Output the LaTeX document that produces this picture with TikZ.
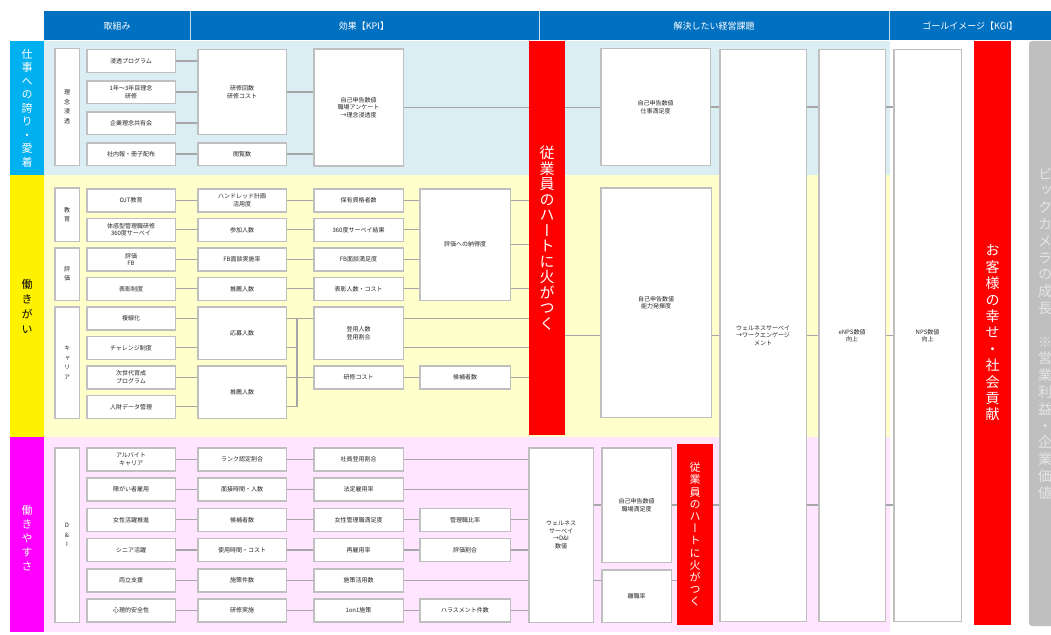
\documentclass[tikz,border=0pt]{standalone}
\usepackage{fontspec}
\setmainfont{Noto Sans CJK JP}
\newfontfamily\tate[RawFeature=+vert]{Noto Sans CJK JP}
\definecolor{hdblue}{HTML}{0070C0}
\definecolor{bgblue}{HTML}{DAEEF3}
\definecolor{bgyel}{HTML}{FFFFCC}
\definecolor{bgpink}{HTML}{FFE5FF}
\definecolor{catcyan}{HTML}{00B0F0}
\definecolor{catmag}{HTML}{FF00FF}
\definecolor{boxgray}{HTML}{BFBFBF}
\definecolor{lngray}{HTML}{A6A6A6}

\begin{document}
\begin{tikzpicture}[x=1pt,y=-1pt,
bx/.style={draw=boxgray,line width=1.5pt,fill=white,inner sep=1pt,align=center,text=black!85,font=\fontsize{6}{7.5}\selectfont},
lb/.style={bx,font=\tate\fontsize{6}{9.5}\selectfont},
ln/.style={lngray,line width=1.2pt},
redbar/.style={fill=red,inner sep=0pt,align=center,text=white}]
\useasboundingbox (0,0) rectangle (1051,634);
\fill[bgblue] (44,41) rectangle (890,175);\fill[bgyel] (44,175) rectangle (890,437);\fill[bgpink] (44,437) rectangle (890,632);
\fill[catcyan] (10,41) rectangle (44,175);\fill[yellow] (10,175) rectangle (44,437);\fill[catmag] (10,437) rectangle (44,632);
\fill[hdblue] (44,11) rectangle (1051,40);
\foreach \x in {190,539,889}{\draw[white!75!hdblue,line width=.8pt] (\x,11) -- (\x,40);}
\foreach \n/\x/\t in {h1/117/取組み,h2/364/効果【KPI】,h3/714/解決したい経営課題,h4/970/ゴールイメージ【KGI】}{\node[text=white,font=\fontsize{9}{10}\selectfont] (\n) at (\x,26){\t};}
\node[align=center,text=white,font=\tate\fontsize{11}{13.5}\selectfont] (cat1) at (27,108){仕\\事\\へ\\の\\誇\\り\\・\\愛\\着};
\node[align=center,text=black,font=\tate\fontsize{11}{15}\selectfont] (cat2) at (27,306){働\\き\\が\\い};
\node[align=center,text=white,font=\tate\fontsize{11}{14}\selectfont] (cat3) at (27,538){働\\き\\や\\す\\さ};
\node[redbar,minimum width=36,minimum height=394,font=\tate\fontsize{15}{15.5}\selectfont] (red1) at (547,238){従\\業\\員\\の\\ハ\\ー\\ト\\に\\火\\が\\つ\\く};
\node[redbar,minimum width=36,minimum height=181,font=\tate\fontsize{11}{12.2}\selectfont] (red2) at (695,534.5){従\\業\\員\\の\\ハ\\ー\\ト\\に\\火\\が\\つ\\く};
\node[redbar,minimum width=37,minimum height=584,font=\tate\fontsize{14}{16.4}\selectfont] (red3) at (992.5,333){お\\客\\様\\の\\幸\\せ\\・\\社\\会\\貢\\献};
\node[fill=boxgray,rounded corners=3pt,inner sep=0pt,minimum width=32,minimum height=585,align=center,text=white!90!black,font=\tate\fontsize{14}{16.8}\selectfont] (goal) at (1045,333.5){ビ\\ッ\\ク\\カ\\メ\\ラ\\の\\成\\長\\[16.8pt]※\\営\\業\\利\\益\\・\\企\\業\\価\\値};
\node[lb,minimum width=24.5,minimum height=116.5] (l1) at (67,107){理\\念\\浸\\透};
\foreach \n/\y/\t in {a1/61/浸透プログラム,a2/92/1年～3年目理念\\研修,a3/123/企業理念共有会,a4/154/社内報・冊子配布}{\node[bx,minimum width=88.5,minimum height=22.5] (\n) at (131,\y){\t};}
\node[bx,minimum width=88.5,minimum height=84.5] (a5) at (242,92){研修回数\\研修コスト};
\node[bx,minimum width=88.5,minimum height=22.5] (a6) at (242,154){閲覧数};
\node[bx,minimum width=89.5,minimum height=116.5] (a7) at (358.5,107.5){自己申告数値\\職場アンケート\\→理念浸透度};
\node[bx,minimum width=109.5,minimum height=116.5] (shigoto) at (655.5,107){自己申告数値\\仕事満足度};
\node[lb,minimum width=24.5,minimum height=53.5] (l2) at (67,214.5){教\\育};
\node[lb,minimum width=24.5,minimum height=52.5] (l3) at (67,274){評\\価};
\node[lb,minimum width=24.5,minimum height=111.5] (l4) at (67,362.5){キ\\ャ\\リ\\ア};
\foreach \n/\y/\t in {b1/200.25/OJT教育,b2/229.75/体感型管理職研修\\360度サーベイ,b3/259.25/評価\\FB,b4/288.75/表彰制度,b5/318.25/複線化,b6/347.75/チャレンジ制度,b7/377.25/次世代育成\\プログラム,b8/406.75/人財データ管理}{\node[bx,minimum width=88.5,minimum height=23] (\n) at (131,\y){\t};}
\foreach \n/\y/\t in {k1/200.25/ハンドレッド計画\\活用度,k2/229.75/参加人数,k3/259.25/FB面談実施率,k4/288.75/推薦人数}{\node[bx,minimum width=88.5,minimum height=23] (\n) at (242,\y){\t};}
\node[bx,minimum width=88.5,minimum height=52.5] (k5) at (242,333){応募人数};
\node[bx,minimum width=88.5,minimum height=52.5] (k6) at (242,392){推薦人数};
\foreach \n/\y/\t in {m1/200.25/保有資格者数,m2/229.75/360度サーベイ結果,m3/259.25/FB面談満足度,m4/288.75/表彰人数・コスト,m6/377.25/研修コスト}{\node[bx,minimum width=89.5,minimum height=23] (\n) at (358.5,\y){\t};}
\node[bx,minimum width=89.5,minimum height=52.5] (m5) at (358.5,333){登用人数\\登用割合};
\node[bx,minimum width=90.5,minimum height=111.5] (nat) at (465,244.5){評価への納得度};
\node[bx,minimum width=90.5,minimum height=23] (kouho) at (465,377.25){候補者数};
\node[bx,minimum width=110.5,minimum height=229.5] (nou) at (656,302.5){自己申告数値\\能力発揮度};
\node[lb,minimum width=24.5,minimum height=174.5] (l5) at (67,535){D\\\&\\I};
\foreach \n/\y/\t in {d1/459.25/アルバイト\\キャリア,d2/489.5/障がい者雇用,d3/519.75/女性活躍推進,d4/550/シニア活躍,d5/580.25/両立支援,d6/610.5/心理的安全性}{\node[bx,minimum width=88.5,minimum height=23] (\n) at (131,\y){\t};}
\foreach \n/\y/\t in {e1/459.25/ランク認定割合,e2/489.5/面接時間・人数,e3/519.75/候補者数,e4/550/使用時間・コスト,e5/580.25/施策件数,e6/610.5/研修実施}{\node[bx,minimum width=88.5,minimum height=23] (\n) at (242,\y){\t};}
\foreach \n/\y/\t in {f1/459.25/社員登用割合,f2/489.5/法定雇用率,f3/519.75/女性管理職満足度,f4/550/再雇用率,f5/580.25/施策活用数,f6/610.5/1on1施策}{\node[bx,minimum width=89.5,minimum height=23] (\n) at (358.5,\y){\t};}
\foreach \n/\y/\t in {g3/519.75/管理職比率,g4/550/評価割合,g6/610.5/ハラスメント件数}{\node[bx,minimum width=90.5,minimum height=23] (\n) at (465,\y){\t};}
\node[bx,minimum width=64.5,minimum height=174.5] (dni) at (561,535){ウェルネス\\サーベイ\\→D\&I\\数値};
\node[bx,minimum width=69.5,minimum height=114.5] (shoku) at (636.5,505){自己申告数値\\職場満足度};
\node[bx,minimum width=69.5,minimum height=52.5] (rishoku) at (636.5,596){離職率};
\node[bx,minimum width=86.5,minimum height=571.5] (well) at (763,335.5){ウェルネスサーベイ\\→ワークエンゲージ\\メント};
\node[bx,minimum width=66.5,minimum height=571.5] (enps) at (852,335.5){eNPS数値\\向上};
\node[bx,minimum width=67.5,minimum height=571.5] (nps) at (927.5,335.5){NPS数値\\向上};
\coordinate (brk) at (297,0);
\foreach \i in {1,2,3}{\draw[ln] (a\i.east) -- (a\i.east -| a5.west);}
\draw[ln] (a4.east) -- (a4.east -| a6.west);
\draw[ln] (a5.east) -- (a5.east -| a7.west);\draw[ln] (a6.east) -- (a6.east -| a7.west);
\draw[ln] (a7.east) -- (a7.east -| red1.west);\draw[ln] (red1.east |- a7) -- (shigoto.west |- a7);
\draw[ln] (shigoto.east) -- (shigoto.east -| well.west);\draw[ln] (well.east |- shigoto) -- (enps.west |- shigoto);\draw[ln] (enps.east |- shigoto) -- (nps.west |- shigoto);
\foreach \i in {1,...,8}{\draw[ln] (b\i.east) -- (b\i.east -| k1.west);}
\foreach \i in {1,...,4}{\draw[ln] (k\i.east) -- (k\i.east -| m1.west);\draw[ln] (m\i.east) -- (m\i.east -| nat.west);}
\foreach \i in {5,...,8}{\draw[ln] (b\i -| k5.east) -- (b\i -| brk);}
\draw[ln] (brk |- b5) -- (brk |- b8);\draw[ln] (brk |- b5) -- (b5 -| m5.west);\draw[ln] (brk |- b7) -- (b7 -| m6.west);
\draw[ln] (m5.east |- b5) -- (b5 -| red1.west);\draw[ln] (m5.east |- b6) -- (b6 -| red1.west);
\draw[ln] (m6.east) -- (kouho.west);\draw[ln] (kouho.east) -- (kouho.east -| red1.west);
\draw[ln] (nat.east |- b1) -- (b1 -| red1.west);\draw[ln] (nat.east) -- (nat.east -| red1.west);\draw[ln] (nat.east |- b4) -- (b4 -| red1.west);
\draw[ln] (red1.east |- well) -- (nou.west |- well);\draw[ln] (nou.east |- well) -- (well.west);\draw[ln] (well.east) -- (enps.west);\draw[ln] (enps.east) -- (nps.west);
\foreach \i in {1,...,6}{\draw[ln] (d\i.east) -- (d\i.east -| e1.west);\draw[ln] (e\i.east) -- (e\i.east -| f1.west);}
\foreach \i in {1,2,5}{\draw[ln] (f\i.east) -- (f\i.east -| dni.west);}
\foreach \i in {3,4,6}{\draw[ln] (f\i.east) -- (f\i.east -| g3.west);\draw[ln] (g\i.east) -- (g\i.east -| dni.west);}
\draw[ln] (dni.east |- shoku) -- (shoku.west);\draw[ln] (dni.east |- d5) -- (d5 -| rishoku.west);
\draw[ln] (shoku.east) -- (shoku.east -| red2.west);\draw[ln] (rishoku.east |- d5) -- (d5 -| red2.west);
\draw[ln] (red2.east |- shoku) -- (shoku -| well.west);\draw[ln] (well.east |- shoku) -- (shoku -| enps.west);\draw[ln] (enps.east |- shoku) -- (shoku -| nps.west);
\end{tikzpicture}
\end{document}
